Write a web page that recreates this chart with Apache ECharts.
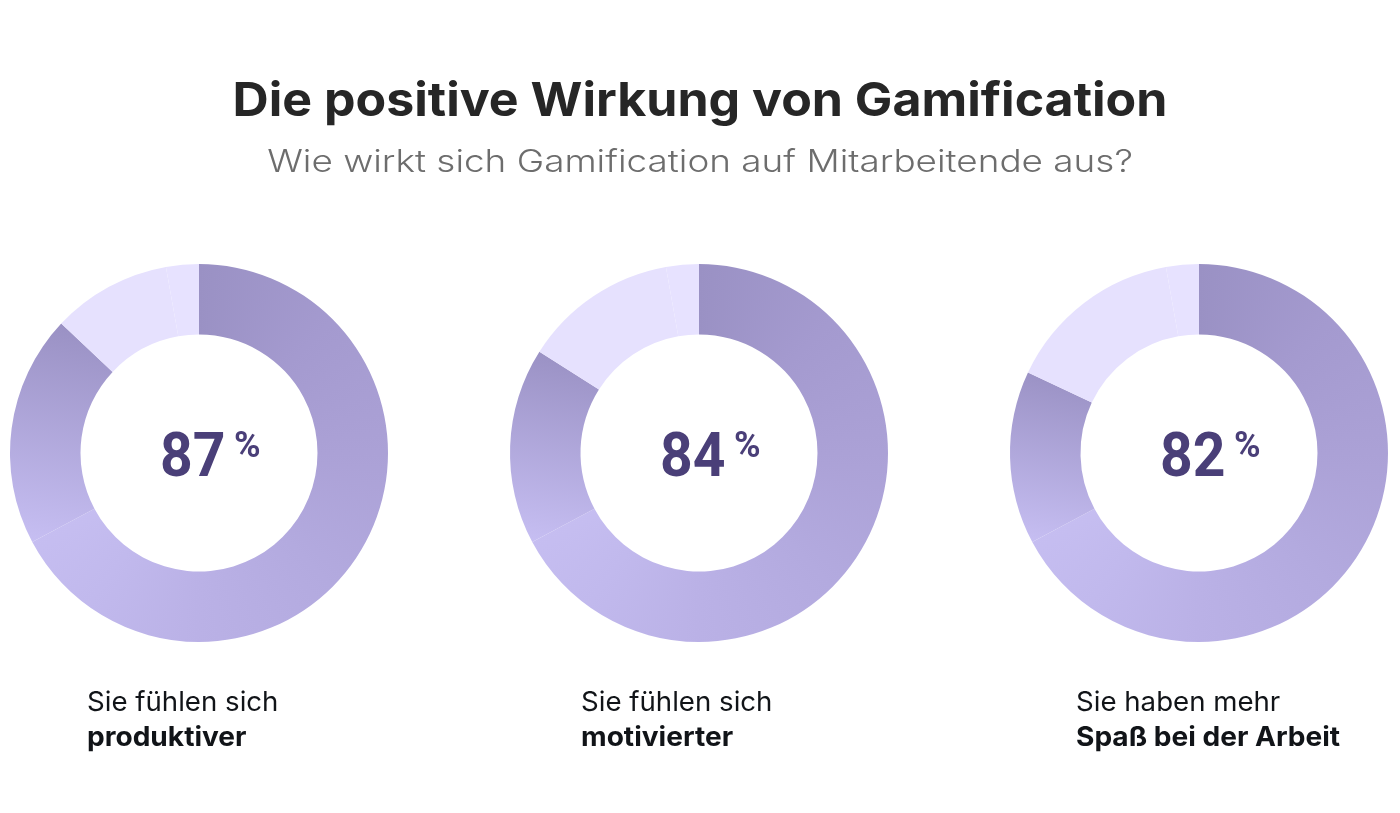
<!DOCTYPE html>
<html>
<head>
<meta charset="utf-8">
<script src="https://cdn.jsdelivr.net/npm/echarts@6/dist/echarts.min.js"></script>
<style>
html,body{margin:0;padding:0;background:#fff;}
#chart{width:1400px;height:813px;}
</style>
</head>
<body>
<div id="chart"></div>
<script>
// ---- data ----
const titleText = 'Die positive Wirkung von Gamification';
const subtitleText = 'Wie wirkt sich Gamification auf Mitarbeitende aus?';
const values = [87, 84, 82];
const captionLine1 = ['Sie fühlen sich', 'Sie fühlen sich', 'Sie haben mehr'];
const captionLine2 = ['produktiver', 'motivierter', 'Spaß bei der Arbeit'];
const total = 100;

// ---- styling / layout ----
const centersX = [199, 699, 1199];
const centerY = 453;
const radii = [118.5, 189];
const captionX = [87, 581, 1076];
const gradientSeam = 67.2;   // angular position (in % of ring) where the shading restarts
const lightSeam = 97.2;      // faint seam in the remaining ring

// angular (conic) shading used for the first part of each ring
const conicStops = [
  [0, '#9a91c4'], [0.125, '#a49acf'], [0.25, '#aba1d6'], [0.375, '#b3aadf'],
  [0.5, '#bab1e6'], [0.6, '#c1b9ed'], [0.68, '#c6bef1'], [1, '#c6bef1']
];
const PAT = 400;
function conicPattern(cx, cy) {
  const cv = document.createElement('canvas');
  cv.width = PAT; cv.height = PAT;
  const ctx = cv.getContext('2d');
  const g = ctx.createConicGradient(-Math.PI / 2, PAT / 2, PAT / 2);
  conicStops.forEach(s => g.addColorStop(s[0], s[1]));
  ctx.fillStyle = g;
  ctx.fillRect(0, 0, PAT, PAT);
  return {image: cv, repeat: 'no-repeat', x: cx - PAT / 2, y: cy - PAT / 2};
}

const gradB = new echarts.graphic.LinearGradient(0.7, 0, 0.3, 1, [
  {offset: 0, color: '#9990c3'},
  {offset: 1, color: '#c6bef2'}
]);

function ringData(v, i) {
  const a = Math.min(v, gradientSeam);
  const b = v - a;
  const rest = total - v;
  const l2 = Math.min(rest, total - lightSeam);
  const l1 = rest - l2;
  const d = [{value: a, itemStyle: {color: conicPattern(centersX[i], centerY)}}];
  if (b > 0) d.push({value: b, itemStyle: {color: gradB}});
  if (l1 > 0) d.push({value: l1, itemStyle: {color: '#e6e1fe'}});
  if (l2 > 0) d.push({value: l2, itemStyle: {color: '#e7e2ff'}});
  return d;
}

const series = values.map((v, i) => ({
  type: 'pie',
  center: [centersX[i], centerY],
  radius: radii,
  startAngle: 90,
  clockwise: true,
  silent: true,
  label: {show: false},
  labelLine: {show: false},
  emphasis: {disabled: true},
  itemStyle: {borderWidth: 0},
  data: ringData(v, i)
}));

const graphics = [
  {type: 'text', x: 700, y: 102, scaleX: 1.065, style: {text: titleText, font: 'bold 47px Inter', fill: '#262626', textAlign: 'center', textVerticalAlign: 'middle'}},
  {type: 'text', x: 700, y: 163, scaleX: 1.19, style: {text: subtitleText, font: '300 31px Inter', fill: '#6d6d6d', textAlign: 'center', textVerticalAlign: 'middle'}}
];
values.forEach((v, i) => {
  graphics.push({type: 'text', x: centersX[i] - 39, y: 460, scaleX: 0.92, style: {text: String(v), font: 'bold 62px Roboto', fill: '#4a3f78', textAlign: 'left', textVerticalAlign: 'middle'}});
  graphics.push({type: 'text', x: centersX[i] + 35, y: 448, style: {text: '%', font: 'bold 36px Roboto', fill: '#4a3f78', textAlign: 'left', textVerticalAlign: 'middle'}});
  graphics.push({type: 'text', x: captionX[i], y: 703, scaleX: 1.023, style: {text: captionLine1[i], font: '400 27px Inter', fill: '#111418', textAlign: 'left', textVerticalAlign: 'middle'}});
  graphics.push({type: 'text', x: captionX[i], y: 738, scaleX: 1.04, style: {text: captionLine2[i], font: '700 27px Inter', fill: '#111418', textAlign: 'left', textVerticalAlign: 'middle'}});
});

const chart = echarts.init(document.getElementById('chart'));
chart.setOption({
  backgroundColor: '#ffffff',
  animation: false,
  series: series,
  graphic: graphics
});
</script>
</body>
</html>
